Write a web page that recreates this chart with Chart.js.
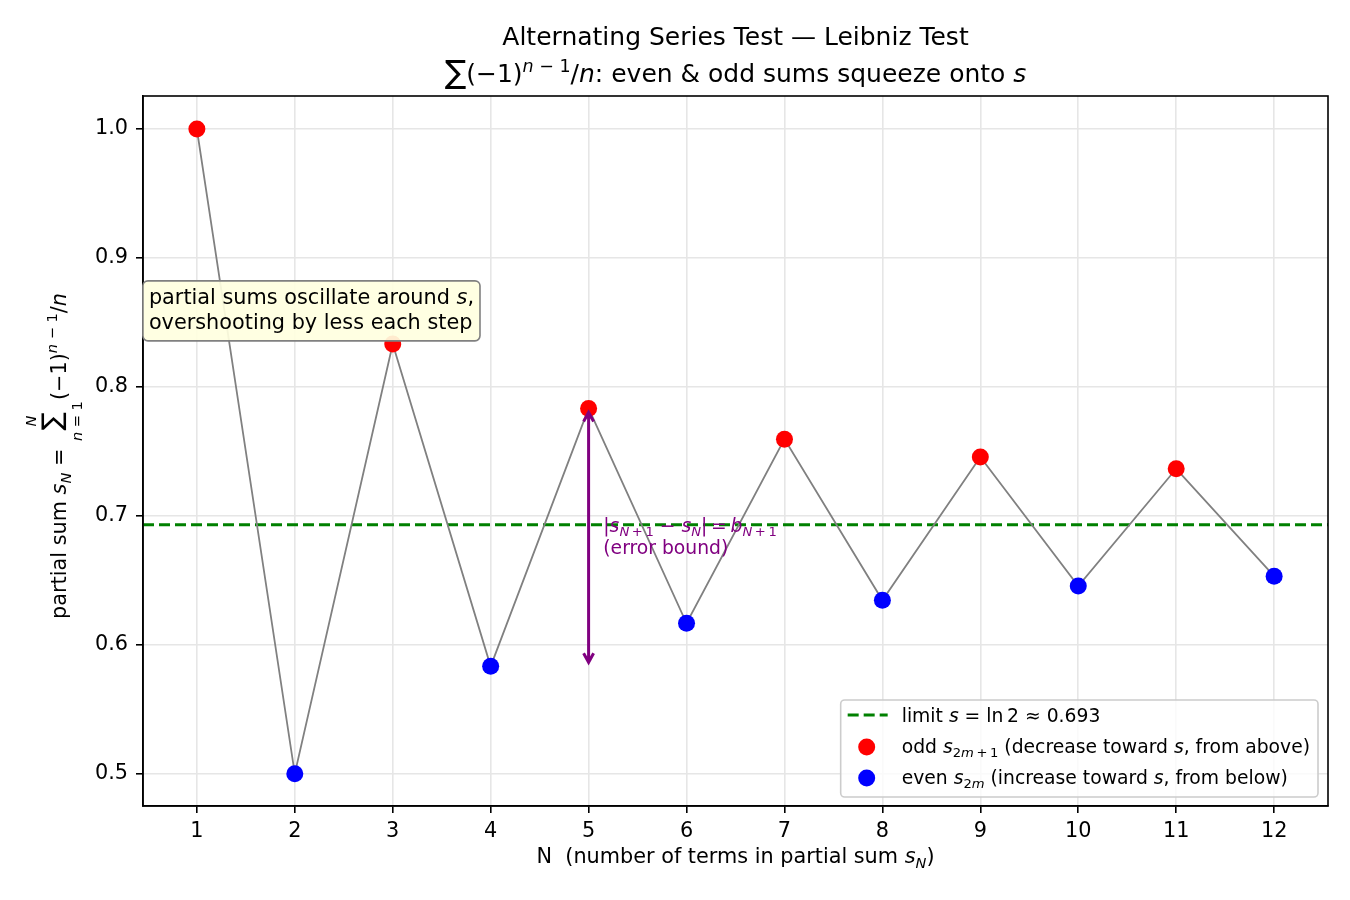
<!DOCTYPE html>
<html>
<head>
<meta charset="utf-8">
<script src="https://cdn.jsdelivr.net/npm/chart.js@4"></script>
<style>
  body { margin: 0; background: #fff; }
</style>
</head>
<body>
<canvas id="myChart" width="1350" height="900"></canvas>
<script>
// data
const nTerms = [1, 2, 3, 4, 5, 6, 7, 8, 9, 10, 11, 12];
const partialSums = [1.0, 0.5, 0.8333, 0.5833, 0.7833, 0.6167, 0.7595, 0.6345, 0.7456, 0.6456, 0.7365, 0.6532];
const limitS = 0.6931;
const xTicks = [1, 2, 3, 4, 5, 6, 7, 8, 9, 10, 11, 12];
const yTicks = [0.5, 0.6, 0.7, 0.8, 0.9, 1.0];
const xRange = [0.45, 12.55];
const yRange = [0.475, 1.0256];
const arrowN = 5;          // arrow drawn at N = 5, from s_4 to s_5
const arrowFrom = 0.5833;
const arrowTo = 0.7833;

const FAM = '"DejaVu Sans"';
const points = nTerms.map((n, i) => ({ x: n, y: partialSums[i] }));
const oddPts = points.filter(p => p.x % 2 === 1);
const evenPts = points.filter(p => p.x % 2 === 0);

// --- tiny rich-text helper for the math bits ---
function setFont(ctx, r, size) {
  ctx.font = (r.it ? 'italic ' : '') + (size * (r.s || 1)).toFixed(2) + 'px ' + FAM;
}
function runWidth(ctx, r, size) {
  setFont(ctx, r, size);
  let w = ctx.measureText(r.t).width;
  if (r.over) w = Math.max(w, richWidth(ctx, r.over, size * 0.7));
  if (r.under) w = Math.max(w, richWidth(ctx, r.under, size * 0.7));
  return w + (r.pad || 0) * size;
}
function richWidth(ctx, runs, size) {
  return runs.reduce((a, r) => a + runWidth(ctx, r, size), 0);
}
function drawRich(ctx, runs, x, y, size, align, color) {
  const w = richWidth(ctx, runs, size);
  let cx = align === 'center' ? x - w / 2 : align === 'right' ? x - w : x;
  ctx.textBaseline = 'alphabetic';
  ctx.textAlign = 'left';
  runs.forEach(r => {
    const rw = runWidth(ctx, r, size);
    setFont(ctx, r, size);
    ctx.fillStyle = color;
    const tw = ctx.measureText(r.t).width;
    ctx.fillText(r.t, cx + (rw - tw) / 2, y + (r.dy || 0) * size);
    if (r.over) drawRich(ctx, r.over, cx + rw / 2, y + r.overDy * size, size * 0.7, 'center', color);
    if (r.under) drawRich(ctx, r.under, cx + rw / 2, y + r.underDy * size, size * 0.7, 'center', color);
    cx += rw;
  });
  return w;
}
const sub = (t, it) => ({ t: t, it: it, s: 0.7, dy: 0.22 });
const sup = (t, it) => ({ t: t, it: it, s: 0.7, dy: -0.42 });
const TH = '\u2009';

const titleLine1 = [{ t: 'Alternating Series Test \u2014 Leibniz Test' }];
const titleLine2 = [{ t: '\u2211', s: 1.28, dy: 0.02 }, { t: '(\u22121)' }, sup('n', true), sup(' \u2212 1'),
  { t: '/' }, { t: 'n', it: true }, { t: ': even & odd sums squeeze onto ' }, { t: 's', it: true }];
const xLabel = [{ t: 'N  (number of terms in partial sum ' }, { t: 's', it: true }, sub('N', true), { t: ')' }];
const yLabel = [{ t: 'partial sum ' }, { t: 's', it: true }, sub('N', true), { t: ' = ' },
  { t: '\u2211', s: 1.3, dy: -0.25, pad: 0.1, over: [{ t: 'N', it: true }], overDy: -1.45,
    under: [{ t: 'n', it: true }, { t: ' = 1' }], underDy: 0.78 },
  { t: '(\u22121)' }, sup('n', true), sup(' \u2212 1'), { t: '/' }, { t: 'n', it: true }];
const boxLines = [
  [{ t: 'partial sums oscillate around ' }, { t: 's', it: true }, { t: ',' }],
  [{ t: 'overshooting by less each step' }]
];
const arrowText1 = [{ t: '|' }, { t: 's', it: true }, sub('N', true), sub(TH + '+' + TH + '1'), { t: ' \u2212 ' },
  { t: 's', it: true }, sub('N', true), { t: '|' + TH + '=' + TH }, { t: 'b', it: true }, sub('N', true), sub(TH + '+' + TH + '1')];
const arrowText2 = [{ t: '(error bound)' }];
const legendRows = [
  [{ t: 'limit ' }, { t: 's', it: true }, { t: ' = ln\u20092 \u2248 0.693' }],
  [{ t: 'odd ' }, { t: 's', it: true }, sub('2'), sub('m', true), sub(TH + '+' + TH + '1'),
    { t: ' (decrease toward ' }, { t: 's', it: true }, { t: ', from above)' }],
  [{ t: 'even ' }, { t: 's', it: true }, sub('2'), sub('m', true),
    { t: ' (increase toward ' }, { t: 's', it: true }, { t: ', from below)' }]
];

const decorations = {
  id: 'decorations',
  afterDraw(chart) {
    const ctx = chart.ctx;
    const ca = chart.chartArea;
    const xs = chart.scales.x, ys = chart.scales.y;
    ctx.save();

    // frame
    ctx.strokeStyle = '#000';
    ctx.lineWidth = 1.6;
    ctx.strokeRect(ca.left, ca.top, ca.right - ca.left, ca.bottom - ca.top);

    // title
    const mid = (ca.left + ca.right) / 2;
    drawRich(ctx, titleLine1, mid, 45, 25, 'center', '#000');
    drawRich(ctx, titleLine2, mid, 82, 25, 'center', '#000');

    // axis labels
    drawRich(ctx, xLabel, mid, 863, 20.8, 'center', '#000');
    ctx.save();
    ctx.translate(66, 456);
    ctx.rotate(-Math.PI / 2);
    drawRich(ctx, yLabel, 0, 0, 20.8, 'center', '#000');
    ctx.restore();

    // error-bound arrow
    const ax = xs.getPixelForValue(arrowN);
    const y1 = ys.getPixelForValue(arrowFrom) - 4;
    const y2 = ys.getPixelForValue(arrowTo) + 4;
    ctx.strokeStyle = '#800080';
    ctx.lineWidth = 3;
    ctx.beginPath();
    ctx.moveTo(ax, y1); ctx.lineTo(ax, y2);
    ctx.moveTo(ax - 5, y2 + 9); ctx.lineTo(ax, y2); ctx.lineTo(ax + 5, y2 + 9);
    ctx.moveTo(ax - 5, y1 - 9); ctx.lineTo(ax, y1); ctx.lineTo(ax + 5, y1 - 9);
    ctx.stroke();
    const tx = xs.getPixelForValue(5.15);
    const ty = ys.getPixelForValue(0.68) - 10;
    drawRich(ctx, arrowText1, tx, ty, 18.75, 'left', '#800080');
    drawRich(ctx, arrowText2, tx, ty + 22, 18.75, 'left', '#800080');

    // note box
    const bw = Math.max(richWidth(ctx, boxLines[0], 20.8), richWidth(ctx, boxLines[1], 20.8)) + 12;
    const bcx = xs.getPixelForValue(2.17), bcy = ys.getPixelForValue(0.859);
    ctx.beginPath();
    ctx.roundRect(bcx - bw / 2, bcy - 30, bw, 60, 5);
    ctx.fillStyle = 'rgba(255,255,224,0.92)';
    ctx.fill();
    ctx.strokeStyle = '#808080';
    ctx.lineWidth = 1.6;
    ctx.stroke();
    drawRich(ctx, boxLines[0], bcx - bw / 2 + 6, bcy - 7, 20.8, 'left', '#000');
    drawRich(ctx, boxLines[1], bcx - bw / 2 + 6, bcy + 18, 20.8, 'left', '#000');

    // legend
    const lw = 61 + Math.max(...legendRows.map(r => richWidth(ctx, r, 18.75))) + 8;
    const lx = ca.right - 10 - lw, ly = ca.bottom - 9 - 97;
    ctx.beginPath();
    ctx.roundRect(lx, ly, lw, 97, 4);
    ctx.fillStyle = 'rgba(255,255,255,0.8)';
    ctx.fill();
    ctx.strokeStyle = '#cccccc';
    ctx.lineWidth = 1.6;
    ctx.stroke();
    ctx.strokeStyle = '#008000';
    ctx.lineWidth = 3;
    ctx.setLineDash([11, 5]);
    ctx.beginPath();
    ctx.moveTo(lx + 7, ly + 15); ctx.lineTo(lx + 47, ly + 15);
    ctx.stroke();
    ctx.setLineDash([]);
    [['#ff0000', 47], ['#0000ff', 78]].forEach(([c, dy]) => {
      ctx.beginPath();
      ctx.arc(lx + 26, ly + dy, 8.5, 0, Math.PI * 2);
      ctx.fillStyle = c;
      ctx.fill();
    });
    drawRich(ctx, legendRows[0], lx + 61, ly + 22, 18.75, 'left', '#000');
    drawRich(ctx, legendRows[1], lx + 61, ly + 53, 18.75, 'left', '#000');
    drawRich(ctx, legendRows[2], lx + 61, ly + 84, 18.75, 'left', '#000');

    ctx.restore();
  }
};

Chart.defaults.font.family = FAM;
Chart.defaults.color = '#000';

let ctx = document.getElementById('myChart').getContext('2d');
let myChart = new Chart(ctx, {
  type: 'scatter',
  data: {
    datasets: [
      {
        data: oddPts,
        backgroundColor: '#ff0000',
        borderWidth: 0,
        pointRadius: 8.5,
        order: 0,
      },
      {
        data: evenPts,
        backgroundColor: '#0000ff',
        borderWidth: 0,
        pointRadius: 8.5,
        order: 0,
      },
      {
        data: points,
        showLine: true,
        borderColor: '#808080',
        borderWidth: 1.8,
        pointRadius: 0,
        order: 1,
      },
      {
        data: [{ x: xRange[0], y: limitS }, { x: xRange[1], y: limitS }],
        showLine: true,
        borderColor: '#008000',
        borderWidth: 3,
        borderDash: [11, 5],
        pointRadius: 0,
        order: 2,
      },
    ],
  },
  options: {
    responsive: false,
    animation: false,
    devicePixelRatio: 1,
    layout: { padding: { left: 73, right: 22, top: 96, bottom: 34 } },
    plugins: {
      legend: { display: false },
      tooltip: { enabled: false },
    },
    scales: {
      x: {
        type: 'linear',
        min: xRange[0],
        max: xRange[1],
        afterBuildTicks: s => { s.ticks = xTicks.map(v => ({ value: v })); },
        afterFit: s => { s.height = 60; },
        ticks: { font: { size: 20.8 }, padding: 6, maxRotation: 0, autoSkip: false, callback: v => String(v) },
        grid: { color: '#e6e6e6', lineWidth: 1.6, tickLength: 7, tickColor: '#000', tickWidth: 1.6 },
        border: { color: '#000', width: 1.6 },
      },
      y: {
        min: yRange[0],
        max: yRange[1],
        afterBuildTicks: s => { s.ticks = yTicks.map(v => ({ value: v })); },
        afterFit: s => { s.width = 70; },
        ticks: { font: { size: 20.8 }, padding: 8, callback: v => v.toFixed(1) },
        grid: { color: '#e6e6e6', lineWidth: 1.6, tickLength: 7, tickColor: '#000', tickWidth: 1.6 },
        border: { color: '#000', width: 1.6 },
      },
    },
  },
  plugins: [decorations],
});
</script>
</body>
</html>
